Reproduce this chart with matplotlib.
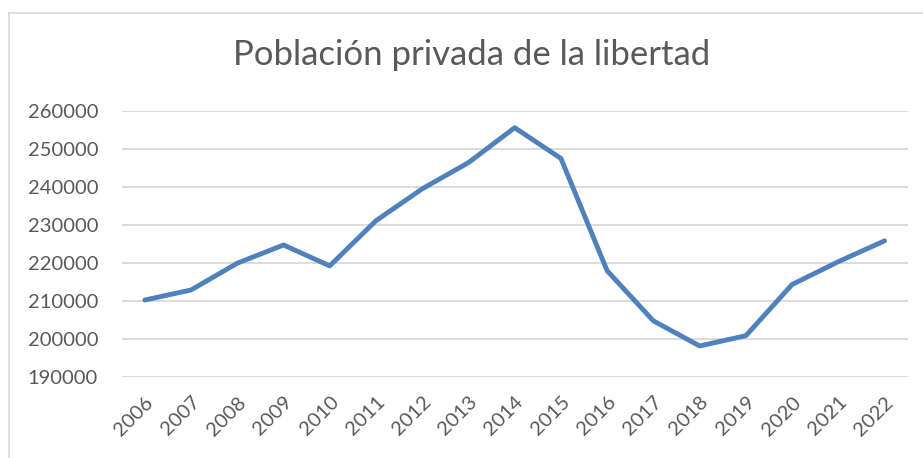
import matplotlib
matplotlib.use("Agg")
import matplotlib.pyplot as plt
from matplotlib.lines import Line2D

years = ["2006", "2007", "2008", "2009", "2010", "2011", "2012", "2013", "2014",
         "2015", "2016", "2017", "2018", "2019", "2020", "2021", "2022"]
values = [210200, 212850, 219900, 224700, 219200, 231100, 239500, 246400, 255600,
          247500, 217900, 204700, 198100, 200800, 214300, 220300, 225800]
y_ticks = [190000, 200000, 210000, 220000, 230000, 240000, 250000, 260000]
title = "Población privada de la libertad"

text_color = "#595959"
grid_color = "#D9D9D9"
line_color = "#4F81BD"

plt.rcParams['font.family'] = ['Lato', 'DejaVu Sans']

fig = plt.figure(figsize=(9.23, 4.58), dpi=100)
fig.patch.set_facecolor("white")

# chart frame
fig.add_artist(Line2D([8.5 / 923, 8.5 / 923], [0, 1 - 12.5 / 458], transform=fig.transFigure,
                      color=grid_color, lw=1.2))
fig.add_artist(Line2D([8.5 / 923, 1], [1 - 12.5 / 458, 1 - 12.5 / 458], transform=fig.transFigure,
                      color=grid_color, lw=1.2))

ax = fig.add_axes([121.7 / 923, 81.3 / 458, 786 / 923, 265.7 / 458])
x = list(range(len(years)))
ax.plot(x, values, color=line_color, lw=3.5, solid_joinstyle='round', solid_capstyle='round', zorder=3)

ax.set_xlim(-0.5, len(years) - 0.5)
ax.set_ylim(y_ticks[0], y_ticks[-1])
ax.set_yticks(y_ticks)
ax.set_yticklabels([str(v) for v in y_ticks])
ax.set_xticks(x)
ax.set_xticklabels(years, rotation=45, ha='right', va='top', rotation_mode='anchor')

ax.grid(axis='y', color=grid_color, lw=1.3)
ax.set_axisbelow(True)
for s in ax.spines.values():
    s.set_visible(False)
ax.tick_params(axis='both', length=0, colors=text_color, labelsize=14.5)
ax.tick_params(axis='y', pad=17)
ax.tick_params(axis='x', pad=12)

fig.text(472 / 923, 1 - 55 / 458, title, ha='center', va='center', fontsize=25, color=text_color)

fig.savefig("out.png", dpi=100)
